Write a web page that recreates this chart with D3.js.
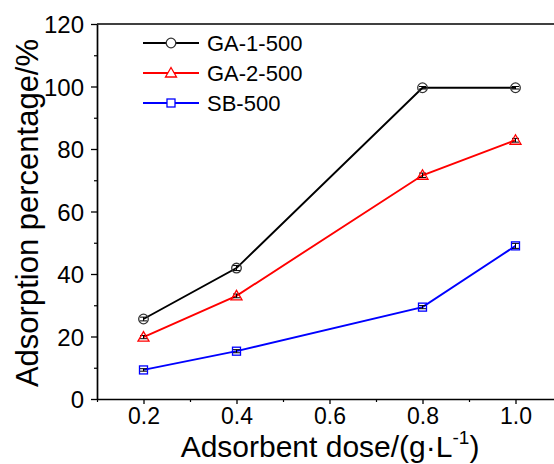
<!DOCTYPE html>
<html>
<head>
<meta charset="utf-8">
<script src="https://cdn.jsdelivr.net/npm/d3@7"></script>
<style>
  body { margin: 0; background: #fff; }
  svg { display: block; font-family: "Liberation Sans", Arial, sans-serif; }
</style>
</head>
<body>
<svg class="chart"></svg>
<script>
var width = 554;
var height = 464;

// data
var doses = [0.2, 0.4, 0.8, 1.0];
var seriesNames = ['GA-1-500', 'GA-2-500', 'SB-500'];
var ga1 = [25.6, 41.9, 99.6, 99.6];
var ga2 = [19.8, 33.0, 71.6, 82.8];
var sb = [9.3, 15.3, 29.4, 49.0];
var ga1Err = [0.6, 0.8, 0.4, 0.4];
var ga2Err = [0.5, 0.6, 0.7, 0.6];
var sbErr = [0.4, 0.5, 0.5, 0.8];
var xTicks = [0.2, 0.4, 0.6, 0.8, 1.0];
var yTicks = [0, 20, 40, 60, 80, 100, 120];

var colors = ['#000000', '#ff0000', '#0000ff'];
var shapes = ['circle', 'triangle', 'square'];

var margin = {'top': 24, 'left': 97, 'bottom': 65};

var chart = d3.select('.chart')
    .attr('width', width)
    .attr('height', height);

var x = d3.scaleLinear()
  .domain([0.1, 1.1])
  .range([margin.left, margin.left + 465]);

var y = d3.scaleLinear()
  .domain([0, 120])
  .range([height - margin.bottom, margin.top]);

var series = seriesNames.map(function(name, i){
  var vals = [ga1, ga2, sb][i];
  var errs = [ga1Err, ga2Err, sbErr][i];
  return {
    'name': name,
    'color': colors[i],
    'shape': shapes[i],
    'values': doses.map(function(d, j){ return {'x': d, 'y': vals[j], 'e': errs[j]}; })
  };
});

// minor ticks first, no labels
chart.append('g')
  .attr('transform', 'translate(0,' + y(0) + ')')
  .call(d3.axisBottom(x).tickValues(d3.range(0.1, 1.15, 0.2)).tickSize(3).tickFormat(''))
  .call(function(g){ g.select('.domain').remove(); })
  .selectAll('line').attr('stroke-width', 1.2);

chart.append('g')
  .attr('transform', 'translate(' + margin.left + ',0)')
  .call(d3.axisLeft(y).tickValues(d3.range(10, 120, 20)).tickSize(3).tickFormat(''))
  .call(function(g){ g.select('.domain').remove(); })
  .selectAll('line').attr('stroke-width', 1.2);

// main axes
var xAxis = chart.append('g')
  .attr('transform', 'translate(0,' + y(0) + ')')
  .call(d3.axisBottom(x).tickValues(xTicks).tickSize(5).tickSizeOuter(0).tickPadding(4).tickFormat(d3.format('.1f')));

var yAxis = chart.append('g')
  .attr('transform', 'translate(' + margin.left + ',0)')
  .call(d3.axisLeft(y).tickValues(yTicks).tickSize(6).tickSizeOuter(0).tickPadding(7));

[xAxis, yAxis].forEach(function(g){
  g.select('.domain').attr('stroke-width', 1.7);
  g.selectAll('.tick line').attr('stroke-width', 1.3);
  g.selectAll('text').attr('font-size', 24).attr('fill', '#000')
    .attr('font-family', '"Liberation Sans", Arial, sans-serif');
});
xAxis.selectAll('text').attr('font-size', 23);
yAxis.selectAll('text').attr('dy', '0.36em');

// top frame line
chart.append('line')
  .attr('x1', margin.left).attr('x2', width)
  .attr('y1', y(120)).attr('y2', y(120))
  .attr('stroke', '#000').attr('stroke-width', 1.7);

// axis titles
chart.append('text')
  .attr('x', 330)
  .attr('y', 457)
  .attr('text-anchor', 'middle')
  .attr('font-size', 30)
  .html('Adsorbent dose/(g·L<tspan dy="-13" font-size="19">-1</tspan><tspan dy="13">)</tspan>');

chart.append('text')
  .attr('transform', 'translate(38,213) rotate(-90)')
  .attr('text-anchor', 'middle')
  .attr('font-size', 31)
  .text('Adsorption percentage/%');

var line = d3.line()
  .x(function(d){ return x(d.x); })
  .y(function(d){ return y(d.y); });

var drawMarker = function(g, shape, color){
  if (shape === 'circle') {
    g.append('circle').attr('r', 4.8);
  } else if (shape === 'triangle') {
    g.append('path').attr('d', 'M0,-5.5L5.5,4L-5.5,4Z');
  } else {
    g.append('rect').attr('x', -4).attr('y', -4).attr('width', 8).attr('height', 8);
  }
  g.selectAll('*')
    .attr('fill', 'none')
    .attr('stroke', shape === 'circle' ? '#333' : color)
    .attr('stroke-width', 1.3);
};

series.forEach(function(s){
  chart.append('path')
    .datum(s.values)
    .attr('d', line)
    .attr('fill', 'none')
    .attr('stroke', s.color)
    .attr('stroke-width', 1.9);

  var pts = chart.append('g').selectAll('g')
    .data(s.values)
    .join('g')
      .attr('transform', function(d){ return 'translate(' + x(d.x) + ',' + y(d.y) + ')'; });

  // small error bars
  pts.each(function(d){
    var g = d3.select(this);
    var dy = y(0) - y(d.e);
    g.append('line').attr('y1', -dy).attr('y2', dy).attr('stroke', '#000').attr('stroke-width', 1);
    [-dy, dy].forEach(function(v){
      g.append('line').attr('x1', -3.5).attr('x2', 3.5).attr('y1', v).attr('y2', v)
        .attr('stroke', '#000').attr('stroke-width', 1);
    });
    drawMarker(g.append('g'), s.shape, s.color);
  });
});

// legend
var legend = chart.append('g').selectAll('g')
  .data(series)
  .join('g')
    .attr('transform', function(d, i){ return 'translate(143,' + (43 + i * 30) + ')'; });

legend.append('line')
  .attr('x1', 0).attr('x2', 56)
  .attr('stroke', function(d){ return d.color; })
  .attr('stroke-width', 1.8);

legend.each(function(d){
  var g = d3.select(this).append('g').attr('transform', 'translate(28,0)');
  drawMarker(g, d.shape, d.color);
  g.selectAll('*').attr('fill', '#fff');
});

legend.append('text')
  .attr('x', 64)
  .attr('dy', '0.36em')
  .attr('font-size', 22)
  .text(function(d){ return d.name; });
</script>
</body>
</html>
